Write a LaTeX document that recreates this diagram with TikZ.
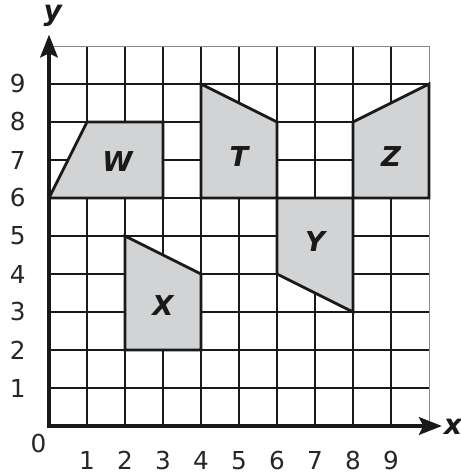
\documentclass[tikz,border=0pt]{standalone}
\usepackage{fontspec}
\setmainfont{DejaVu Sans}
\usetikzlibrary{arrows.meta}
\definecolor{shapegray}{HTML}{D1D3D4}
\definecolor{edgegray}{HTML}{8A8A8A}
\tikzset{
  gridline/.style={line width=1.2pt, black!90},
  borderline/.style={line width=0.7pt, edgegray},
  shapeface/.style={fill=shapegray, draw=black!90, line width=2.1pt, line join=miter},
  axisline/.style={line width=3.2pt, black!90, -{Stealth[length=17pt,width=13pt,inset=3pt]}},
  shapelabel/.style={inner sep=0pt, black!90, font=\fontsize{20.5}{20.5}\selectfont\bfseries\itshape},
  ticklabel/.style={inner sep=0pt, black!85, font=\fontsize{18.5}{18.5}\selectfont},
  axislabel/.style={inner sep=0pt, black!90, font=\fontsize{21}{21}\selectfont\bfseries\itshape}
}
\begin{document}
\begin{tikzpicture}[x=1cm,y=1cm]
\useasboundingbox (-1.2895,-1.2105) rectangle (10.8158,11.2105);
% grid
\foreach \i in {1,...,9} {
  \draw[gridline] (\i,0) -- (\i,10);
  \draw[gridline] (0,\i) -- (10,\i);
}
\draw[borderline] (0,10) -- (10,10) -- (10,0);
% shapes
\draw[shapeface] (0,6) -- (1,8) -- (3,8) -- (3,6) -- cycle;
\draw[shapeface] (4,6) -- (4,9) -- (6,8) -- (6,6) -- cycle;
\draw[shapeface] (8,6) -- (8,8) -- (10,9) -- (10,6) -- cycle;
\draw[shapeface] (6,6) -- (8,6) -- (8,3) -- (6,4) -- cycle;
\draw[shapeface] (2,2) -- (2,5) -- (4,4) -- (4,2) -- cycle;
\node[shapelabel] (W) at (1.8,6.97) {W};
\node[shapelabel] (T) at (5,7.08) {T};
\node[shapelabel] (Z) at (9,7.08) {Z};
\node[shapelabel] (Y) at (7,4.85) {Y};
\node[shapelabel] (X) at (3,3.17) {X};
% axes
\coordinate (O) at (0,0);
\coordinate (xend) at (10.34,0);
\coordinate (yend) at (0,10.3);
\draw[axisline] ([xshift=-1.6pt]O) -- (xend);
\draw[axisline] ([yshift=-1.6pt]O) -- (yend);
\node[axislabel] (xl) at (10.63,-0.02) {x};
\node[axislabel] (yl) at (0.1,10.8) {y};
% tick labels
\foreach \i in {1,...,9} {
  \node[ticklabel] (xt\i) at (\i,-0.9) {\i};
  \node[ticklabel] (yt\i) at (-0.82,\i) {\i};
}
\node[ticklabel] (zero) at (-0.28,-0.45) {0};
\end{tikzpicture}
\end{document}
